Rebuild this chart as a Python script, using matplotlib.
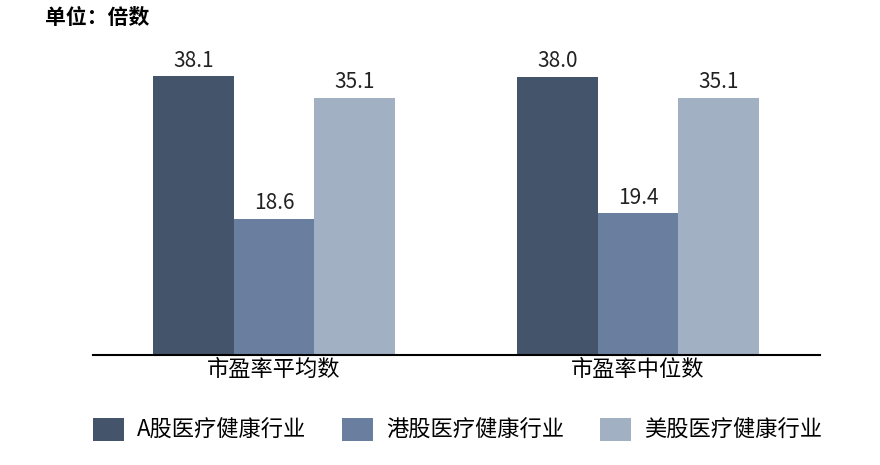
import matplotlib.pyplot as plt
import numpy as np

plt.rcParams['font.family'] = ['Noto Sans CJK SC', 'DejaVu Sans']

categories = ['市盈率平均数', '市盈率中位数']
series_names = ['A股医疗健康行业', '港股医疗健康行业', '美股医疗健康行业']
values = [
    [38.1, 38.0],
    [18.6, 19.4],
    [35.1, 35.1],
]
colors = ['#44546a', '#6a7f9f', '#a2b0c4']

fig = plt.figure(figsize=(8.8, 4.65), dpi=100)
ax = fig.add_axes([93 / 880, 110 / 465, 727 / 880, 293 / 465])

x = np.arange(len(categories))
w = 0.221
for i, (name, vals) in enumerate(zip(series_names, values)):
    pos = x + (i - 1) * w
    ax.bar(pos, vals, width=w, color=colors[i], label=name)
    for p, v in zip(pos, vals):
        ax.text(p, v + 0.6, f'{v:.1f}', ha='center', va='bottom', fontsize=15, color='#222222')

ax.set_xlim(-0.497, 1.5)
ax.set_ylim(0, 40)
ax.set_xticks(x)
ax.set_xticklabels(categories, fontsize=16)
ax.tick_params(axis='x', length=0, pad=2)
ax.set_yticks([])
for s in ['top', 'right', 'left']:
    ax.spines[s].set_visible(False)
ax.spines['bottom'].set_linewidth(1.5)

fig.text(45 / 880, 1 - 18 / 465, '单位：倍数', fontsize=15, fontweight='bold', va='center', ha='left')

fig.legend(loc='center', bbox_to_anchor=(0.52, 1 - 430 / 465), ncol=3, frameon=False,
           fontsize=16, handlelength=1.4, handleheight=1.2, columnspacing=1.6, handletextpad=0.6)

fig.savefig('out.png', dpi=100)
